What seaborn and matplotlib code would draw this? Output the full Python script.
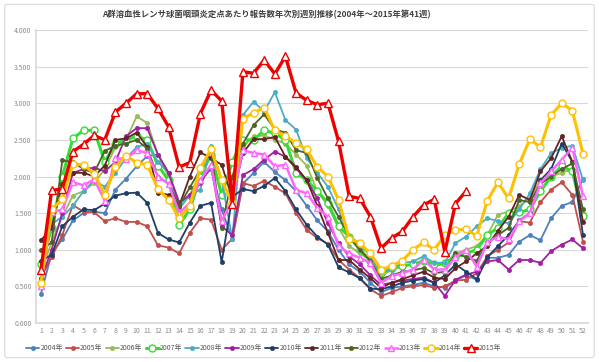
import matplotlib
matplotlib.use("Agg")
import matplotlib.pyplot as plt
import seaborn as sns
import pandas as pd
import numpy as np
from matplotlib.patches import FancyBboxPatch
from matplotlib.ticker import FormatStrFormatter

weeks = list(range(1, 53))

y2004 = [0.40,0.95,1.14,1.40,1.50,1.52,1.50,1.82,1.97,2.14,2.28,2.30,2.05,1.65,1.72,1.95,2.10,1.55,1.15,1.90,2.05,2.20,2.06,1.95,1.80,1.60,1.40,1.25,1.00,0.80,0.70,0.55,0.42,0.48,0.50,0.52,0.55,0.50,0.48,0.58,0.65,0.59,0.89,0.89,0.93,1.11,1.20,1.13,1.43,1.60,1.65,1.97]
y2005 = [0.62,0.90,1.20,1.61,1.52,1.51,1.39,1.43,1.38,1.38,1.32,1.06,1.03,0.95,1.23,1.43,1.41,1.00,1.15,1.91,1.87,1.94,1.86,1.77,1.50,1.27,1.16,1.08,0.86,0.73,0.61,0.46,0.37,0.42,0.48,0.50,0.52,0.48,0.50,0.58,0.59,0.68,0.91,1.00,1.10,1.39,1.37,1.65,1.82,1.92,1.75,1.11]
y2006 = [0.70,1.10,1.45,1.74,1.80,1.91,2.10,2.40,2.50,2.82,2.73,2.30,2.00,1.55,1.75,2.05,2.30,1.75,2.20,2.40,2.55,2.56,2.50,2.45,2.30,2.15,1.80,1.60,1.30,1.05,0.95,0.85,0.65,0.72,0.78,0.80,0.85,0.78,0.80,0.95,1.00,1.05,1.20,1.48,1.52,1.60,1.70,1.95,2.00,2.05,2.10,1.50]
y2007 = [0.80,1.30,2.00,2.52,2.63,2.63,2.20,2.45,2.50,2.55,2.50,2.15,1.95,1.34,1.55,2.00,2.30,1.75,2.20,2.50,2.50,2.63,2.59,2.50,2.05,1.95,1.80,1.64,1.32,1.18,1.00,0.85,0.68,0.75,0.78,0.80,0.85,0.80,0.82,0.90,0.95,1.00,1.20,1.30,1.50,1.51,1.55,1.80,2.00,2.14,2.07,1.46]
y2008 = [0.60,1.35,1.45,1.60,1.80,1.95,1.86,2.05,2.25,2.40,2.45,2.20,2.05,1.57,1.75,1.82,2.42,1.95,1.15,2.84,3.02,2.89,3.15,2.77,2.64,2.25,2.05,1.86,1.55,1.18,1.09,0.91,0.68,0.73,0.82,0.84,0.91,0.82,0.82,1.09,1.18,1.32,1.43,1.39,1.36,1.55,1.77,2.10,2.32,2.39,2.42,1.95]
y2009 = [0.60,1.00,1.50,2.05,2.10,2.12,2.07,2.20,2.55,2.66,2.66,2.30,2.05,1.64,1.75,1.91,2.14,1.32,1.20,2.02,2.10,2.23,2.34,2.27,2.11,1.95,1.70,1.36,1.09,0.91,0.80,0.65,0.52,0.55,0.58,0.60,0.62,0.55,0.37,0.59,0.66,0.70,0.84,0.86,0.73,0.86,0.86,0.82,0.98,1.07,1.14,1.02]
y2010 = [0.85,0.93,1.32,1.45,1.55,1.54,1.63,1.74,1.77,1.78,1.64,1.23,1.14,1.10,1.37,1.60,1.64,0.83,1.72,1.83,1.80,1.87,1.98,1.80,1.55,1.34,1.18,1.07,0.76,0.69,0.61,0.47,0.46,0.50,0.55,0.58,0.60,0.55,0.65,0.80,0.70,0.60,0.90,1.05,1.20,1.40,1.50,1.95,2.10,2.45,2.20,1.20]
y2011 = [1.13,1.30,1.90,2.05,2.05,2.00,2.15,2.50,2.52,2.60,2.40,1.78,1.75,1.60,2.00,2.33,2.25,2.16,1.70,2.32,2.51,2.51,2.54,2.27,2.13,1.95,1.60,1.23,0.86,0.86,0.73,0.61,0.48,0.55,0.60,0.65,0.70,0.62,0.60,0.75,0.84,0.95,1.05,1.26,1.45,1.75,1.68,2.07,2.25,2.55,2.20,1.38]
y2012 = [1.00,1.10,2.22,2.20,2.10,2.05,2.35,2.42,2.45,2.50,2.38,2.00,1.90,1.60,1.85,2.10,2.35,1.30,2.00,2.45,2.70,2.85,2.64,2.60,2.36,2.32,1.98,1.70,1.45,1.18,1.00,0.85,0.60,0.65,0.70,0.72,0.75,0.68,0.70,0.95,0.90,0.85,1.10,1.20,1.30,1.68,1.65,1.90,2.00,2.10,2.18,1.55]
y2013 = [0.50,1.51,1.55,1.92,1.88,1.96,1.67,2.25,2.24,2.36,2.32,2.00,1.90,1.50,1.64,1.95,2.16,1.39,1.68,2.36,2.32,2.30,2.14,2.16,1.82,1.77,1.57,1.45,1.05,0.95,0.89,0.82,0.55,0.64,0.68,0.73,0.86,0.73,0.73,0.90,1.00,0.77,1.10,1.18,1.14,1.39,1.50,1.91,2.07,2.23,2.39,1.73]
y2014 = [0.55,1.55,1.69,2.17,2.16,2.04,1.75,2.13,2.28,2.19,2.16,1.83,1.68,1.43,1.60,2.12,2.37,1.95,1.64,2.79,2.87,2.94,2.63,2.55,2.46,2.37,2.13,2.00,1.68,1.15,1.09,0.95,0.73,0.78,0.85,1.00,1.10,1.00,1.20,1.27,1.28,1.19,1.67,1.92,1.70,2.17,2.51,2.40,2.84,3.00,2.90,2.31]
y2015 = [0.73,1.81,1.83,2.34,2.44,2.56,2.50,2.88,3.00,3.13,3.13,2.93,2.68,2.13,2.19,2.86,3.18,3.03,1.63,3.43,3.41,3.59,3.40,3.64,3.14,3.04,2.98,3.00,2.48,1.73,1.70,1.45,1.02,1.16,1.25,1.45,1.61,1.69,0.97,1.63,1.80]

years = ["2004年","2005年","2006年","2007年","2008年","2009年","2010年","2011年","2012年","2013年","2014年","2015年"]
series = [y2004,y2005,y2006,y2007,y2008,y2009,y2010,y2011,y2012,y2013,y2014,y2015]

colors = ["#4F81BD","#C0504D","#9BBB59","#33DD33","#4BACC6","#A020A0",
          "#1F3F66","#632523","#4F6228","#FF66FF","#FFC000","#EE0000"]
# style: (marker, markersize, linewidth, open)
styles = [("o",3,1.3,False),("o",3,1.3,False),("o",3,1.3,False),("o",5,2.2,True),
          ("o",3,1.3,False),("o",3,1.3,False),("o",3,1.3,False),("o",3,1.3,False),
          ("o",3,1.3,False),("^",5,1.8,True),("o",5,2.2,True),("^",6,2.4,True)]

sns.set_theme(style="white")
plt.rcParams['font.family'] = ['Noto Sans CJK JP', 'DejaVu Sans']

fig = plt.figure(figsize=(5.99, 3.62), dpi=100)
ax = fig.add_axes([35.7/599, 1-323/362, (588.3-35.7)/599, (323-30)/362])

for name, vals, c, st in zip(years, series, colors, styles):
    df = pd.DataFrame({"week": weeks[:len(vals)], "value": vals})
    mk, ms, lw, op = st
    sns.lineplot(data=df, x="week", y="value", ax=ax, color=c, linewidth=lw,
                 marker=mk, markersize=ms, markerfacecolor=("white" if op else c),
                 markeredgecolor=c, markeredgewidth=(1.0 if op else 0.5),
                 label=name, legend=False)

ax.set_xlim(0.5, 52.5)
ax.set_ylim(0, 4.0)
ax.set_yticks(np.arange(0, 4.01, 0.5))
ax.yaxis.set_major_formatter(FormatStrFormatter("%.3f"))
ax.set_xticks(weeks)
ax.set_xticklabels([str(w) for w in weeks])
ax.tick_params(axis="both", labelsize=5, colors="#8C8C8C", length=0, pad=3)
ax.set_xlabel("")
ax.set_ylabel("")
ax.grid(axis="y", color="#D9D9D9", linewidth=0.8)
ax.set_axisbelow(True)
for s in ["top","right"]:
    ax.spines[s].set_visible(False)
ax.spines["left"].set_color("#D9D9D9")
ax.spines["bottom"].set_color("#D9D9D9")

fig.text(0.445, 1-15/362, "A群溶血性レンサ球菌咽頭炎定点あたり報告数年次別週別推移(2004年～2015年第41週)",
         ha="center", va="center", fontsize=6, fontweight="bold", color="#404040")

handles, labels = ax.get_legend_handles_labels()
leg = fig.legend(handles, labels, loc="center", bbox_to_anchor=(0.44, 1-348/362), ncol=12,
                 fontsize=5, frameon=False, handlelength=1.9, handletextpad=0.15,
                 columnspacing=0.45, labelcolor="#595959")

border = FancyBboxPatch((0.008, 0.012), 0.984, 0.976, boxstyle="round,pad=0,rounding_size=0.005",
                        transform=fig.transFigure, facecolor="none", edgecolor="#D9D9D9", linewidth=0.8)
fig.patches.append(border)

fig.savefig("out.png", dpi=100, facecolor="white")
